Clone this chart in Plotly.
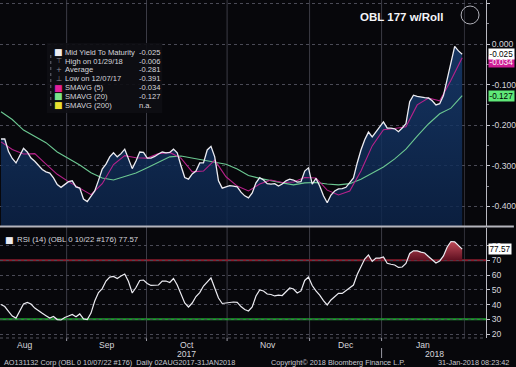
import plotly.graph_objects as go

# ---------------- data ----------------
# trading-day index 0..123  (02AUG2017 .. 31JAN2018, visible part)
mid_yield = [
    -0.234, -0.234, -0.265, -0.282, -0.293, -0.275, -0.257, -0.266, -0.281, -0.289,
    -0.298, -0.309, -0.315, -0.318, -0.330, -0.346, -0.353, -0.345, -0.339, -0.337,
    -0.352, -0.355, -0.382, -0.388, -0.376, -0.362, -0.336, -0.308, -0.296, -0.278,
    -0.268, -0.278, -0.270, -0.259, -0.283, -0.307, -0.288, -0.266, -0.267, -0.281,
    -0.281, -0.277, -0.271, -0.266, -0.268, -0.267, -0.259, -0.268, -0.300, -0.329,
    -0.333, -0.320, -0.313, -0.293, -0.293, -0.261, -0.252, -0.278, -0.337, -0.355,
    -0.352, -0.349, -0.350, -0.352, -0.365, -0.374, -0.379, -0.367, -0.342, -0.329,
    -0.335, -0.344, -0.345, -0.344, -0.350, -0.345, -0.337, -0.333, -0.335, -0.340,
    -0.339, -0.313, -0.305, -0.345, -0.331, -0.350, -0.374, -0.391, -0.372, -0.362,
    -0.357, -0.356, -0.353, -0.342, -0.330, -0.293, -0.261, -0.236, -0.217, -0.229,
    -0.216, -0.206, -0.192, -0.207, -0.207, -0.209, -0.216, -0.207, -0.196, -0.142,
    -0.126, -0.129, -0.131, -0.132, -0.133, -0.140, -0.150, -0.147, -0.127, -0.089,
    -0.049, -0.006, -0.017, -0.025,
]

# moving averages read every third trading day
sma_days = list(range(0, 124, 3))
smavg_5 = [
    -0.241, -0.260, -0.271, -0.270, -0.296, -0.321, -0.339, -0.355, -0.371, -0.344,
    -0.297, -0.275, -0.280, -0.281, -0.270, -0.267, -0.281, -0.315, -0.313, -0.286,
    -0.327, -0.350, -0.362, -0.345, -0.335, -0.341, -0.340, -0.329, -0.330, -0.360,
    -0.372, -0.362, -0.313, -0.251, -0.211, -0.208, -0.204, -0.150, -0.133, -0.140,
    -0.089, -0.034,
]
smavg_20 = [
    -0.167, -0.186, -0.212, -0.227, -0.243, -0.266, -0.282, -0.298, -0.317, -0.330,
    -0.335, -0.326, -0.318, -0.305, -0.292, -0.278, -0.276, -0.281, -0.286, -0.291,
    -0.296, -0.308, -0.324, -0.331, -0.337, -0.342, -0.347, -0.342, -0.341, -0.345,
    -0.347, -0.344, -0.333, -0.318, -0.303, -0.283, -0.259, -0.227, -0.197, -0.172,
    -0.158, -0.127,
]

rsi_14 = [
    40.0, 38.6, 35.3, 32.2, 30.8, 35.3, 40.3, 41.4, 40.3, 37.6,
    35.6, 34.0, 32.4, 30.8, 31.9, 29.8, 29.5, 31.2, 32.2, 33.2,
    31.7, 33.6, 30.2, 29.8, 34.2, 42.4, 48.1, 50.8, 55.9, 58.6,
    59.0, 57.6, 59.3, 60.7, 55.6, 47.8, 51.5, 56.3, 56.6, 54.2,
    52.9, 53.2, 53.2, 55.9, 55.9, 54.9, 57.6, 53.2, 47.1, 41.0,
    38.3, 41.0, 45.4, 48.1, 52.5, 55.3, 58.0, 51.2, 44.4, 40.7,
    41.0, 41.7, 41.7, 41.4, 38.6, 36.6, 35.6, 38.3, 45.8, 49.8,
    49.2, 47.1, 46.8, 45.8, 46.4, 46.1, 48.8, 51.2, 50.5, 47.8,
    49.2, 56.3, 58.6, 52.9, 49.2, 46.4, 42.7, 39.7, 43.1, 45.2,
    47.6, 47.5, 49.5, 51.5, 53.2, 60.3, 65.4, 70.8, 73.6, 69.2,
    71.5, 71.5, 72.2, 67.9, 67.3, 66.8, 65.1, 65.4, 67.9, 74.6,
    76.4, 76.3, 75.5, 74.9, 72.5, 70.2, 68.1, 69.5, 72.9, 79.0,
    82.7, 82.5, 80.3, 77.57,
]

month_labels = ["Aug", "Sep", "Oct", "Nov", "Dec", "Jan"]
year_labels = ["2017", "2018"]
main_ticks = [0.1, 0.0, -0.1, -0.2, -0.3, -0.4]
rsi_ticks = [20, 30, 40, 50, 60, 70, 80]
rsi_over, rsi_under = 70, 30

legend_rows = [
    ("Mid Yield To Maturity", "-0.025"),
    ("High on 01/29/18", "-0.006"),
    ("Average", "-0.281"),
    ("Low on 12/07/17", "-0.391"),
    ("SMAVG (5)", "-0.034"),
    ("SMAVG (20)", "-0.127"),
    ("SMAVG (200)", "n.a."),
]

# ---------------- layout constants ----------------
W, H = 516, 367
ML, MR, MT, MB = 0, 28, 0, 29
PW, PH = W - ML - MR, H - MT - MB
X_RANGE = [-0.27, 129.35]
Y_RANGE = [-0.4483, 0.1084]
R_RANGE = [17.29, 91.86]
MONTH_EDGES = [-4.5, 17.5, 38.8, 60.3, 82.3, 101.5, 123.6]

BG = "#07070b"
FONT = "Liberation Sans, Arial, sans-serif"
TXT = "#d6d6dc"
WHITE = "#ececf2"
MAGENTA = "#b8228c"
GREEN = "#6cc892"


def px_x(p):
    return (p - ML) / PW


def px_y(p):
    return (H - MB - p) / PH


days = list(range(len(mid_yield)))
n = len(days)

fig = go.Figure()

# main panel: filled area under the yield line
fig.add_trace(go.Scatter(x=days, y=[Y_RANGE[0]] * n, mode="lines", line=dict(width=0),
                         hoverinfo="skip", showlegend=False, yaxis="y"))
fig.add_trace(go.Scatter(x=days, y=mid_yield, mode="lines", line=dict(width=0),
                         fill="tonexty",
                         fillgradient=dict(type="vertical",
                                           colorscale=[[0, "rgba(12,36,74,0.82)"],
                                                       [1, "rgba(24,62,116,0.82)"]]),
                         hoverinfo="skip", showlegend=False, yaxis="y"))
fig.add_trace(go.Scatter(x=sma_days, y=smavg_20, mode="lines",
                         line=dict(color=GREEN, width=1.1), showlegend=False, yaxis="y"))
fig.add_trace(go.Scatter(x=sma_days, y=smavg_5, mode="lines",
                         line=dict(color=MAGENTA, width=1.1), showlegend=False, yaxis="y"))
fig.add_trace(go.Scatter(x=days, y=mid_yield, mode="lines",
                         line=dict(color=WHITE, width=1.3), showlegend=False, yaxis="y"))

# RSI panel
fig.add_trace(go.Scatter(x=days, y=[rsi_over] * n, mode="lines", line=dict(width=0),
                         hoverinfo="skip", showlegend=False, yaxis="y2"))
fig.add_trace(go.Scatter(x=days, y=[max(v, rsi_over) for v in rsi_14], mode="lines",
                         line=dict(width=0), fill="tonexty",
                         fillgradient=dict(type="vertical",
                                           colorscale=[[0, "#5e1020"], [1, "#c04a58"]]),
                         hoverinfo="skip", showlegend=False, yaxis="y2"))
fig.add_trace(go.Scatter(x=days, y=rsi_14, mode="lines",
                         line=dict(color=WHITE, width=1.2), showlegend=False, yaxis="y2"))

shapes = []
# month separators across both panels
for e in MONTH_EDGES[1:-1]:
    shapes.append(dict(type="line", xref="x", yref="paper", x0=e, x1=e, y0=0, y1=1,
                       line=dict(color="#3c3c46", width=1), layer="between"))
    shapes.append(dict(type="line", xref="x", yref="paper", x0=e, x1=e,
                       y0=0, y1=px_y(341), line=dict(color="#9a9aa4", width=1)))
shapes.append(dict(type="line", xref="x", yref="paper", x0=MONTH_EDGES[-1], x1=MONTH_EDGES[-1],
                   y0=0, y1=1, line=dict(color="#30303a", width=1), layer="between"))
# year separator below axis
shapes.append(dict(type="line", xref="x", yref="paper", x0=MONTH_EDGES[5], x1=MONTH_EDGES[5],
                   y0=px_y(348), y1=px_y(358), line=dict(color="#9a9aa4", width=1)))
# RSI 70/30 lines
shapes.append(dict(type="line", xref="paper", yref="y2", x0=0, x1=1, y0=rsi_over, y1=rsi_over,
                   line=dict(color="#8e1c2e", width=2), layer="between"))
shapes.append(dict(type="line", xref="paper", yref="y2", x0=0, x1=1, y0=rsi_under, y1=rsi_under,
                   line=dict(color="#1f9c30", width=2), layer="between"))
# panel separator
shapes.append(dict(type="line", xref="paper", yref="paper", x0=0, x1=W / PW,
                   y0=px_y(226.5), y1=px_y(226.5), line=dict(color="#b4b4bc", width=2)))
# bottom axis dotted line
shapes.append(dict(type="line", xref="paper", yref="paper", x0=0, x1=1,
                   y0=0, y1=0, line=dict(color="#55555f", width=1, dash="dot")))
# circle top right
shapes.append(dict(type="circle", xref="paper", yref="paper",
                   x0=px_x(463), x1=px_x(481), y0=px_y(24), y1=px_y(6),
                   line=dict(color="#b0b0b8", width=1)))
# legend box
shapes.append(dict(type="rect", xref="paper", yref="paper",
                   x0=px_x(47), x1=px_x(163), y0=px_y(113), y1=px_y(43),
                   fillcolor="rgba(14,14,20,0.92)", line=dict(width=0)))
shapes.append(dict(type="line", xref="paper", yref="paper",
                   x0=px_x(51), x1=px_x(51), y0=px_y(106), y1=px_y(52),
                   line=dict(color="#6a6a74", width=1, dash="dot")))

annotations = []
# title
annotations.append(dict(text="<b>OBL 177 w/Roll</b>", xref="paper", yref="paper",
                        x=px_x(403.5), y=px_y(17), xanchor="center", yanchor="middle",
                        showarrow=False,
                        font=dict(family=FONT, size=11.5, color="#f4f4f8")))
# legend rows
row_y = [52, 61, 70, 79, 87.5, 96, 105]
icons = [("■", WHITE), ("⊤", "#8a8a94"), ("+", "#8a8a94"), ("⊥", "#8a8a94"),
         ("■", "#e0209a"), ("■", "#7be58c"), ("■", "#e8e030")]
for (lab, val), yy, (ic, icc) in zip(legend_rows, row_y, icons):
    annotations.append(dict(text=ic, xref="paper", yref="paper", x=px_x(59), y=px_y(yy),
                            xanchor="center", yanchor="middle", showarrow=False,
                            font=dict(family="DejaVu Sans", size=9 if ic == "■" else 7, color=icc)))
    annotations.append(dict(text=lab, xref="paper", yref="paper", x=px_x(63.5), y=px_y(yy),
                            xanchor="left", yanchor="middle", showarrow=False,
                            font=dict(family=FONT, size=7.6, color=TXT)))
    annotations.append(dict(text=val, xref="paper", yref="paper", x=px_x(137.5), y=px_y(yy),
                            xanchor="left", yanchor="middle", showarrow=False,
                            font=dict(family=FONT, size=7.6, color=TXT)))
# RSI legend
annotations.append(dict(text="■", xref="paper", yref="paper", x=px_x(10), y=px_y(239.5),
                        xanchor="center", yanchor="middle", showarrow=False,
                        font=dict(family="DejaVu Sans", size=9, color=WHITE)))
annotations.append(dict(text="RSI (14) (OBL 0 10/22 #176) 77.57", xref="paper", yref="paper",
                        x=px_x(15), y=px_y(239.5), xanchor="left", yanchor="middle",
                        showarrow=False, font=dict(family=FONT, size=7.8, color=TXT)))
# month labels
for i, lab in enumerate(month_labels):
    mid = (MONTH_EDGES[i] + MONTH_EDGES[i + 1]) / 2
    annotations.append(dict(text=lab, xref="x", yref="paper", x=mid, y=px_y(344.5),
                            xanchor="center", yanchor="middle", showarrow=False,
                            font=dict(family=FONT, size=8.6, color=TXT)))
for i, lab in zip([2, 5], year_labels):
    mid = (MONTH_EDGES[i] + MONTH_EDGES[i + 1]) / 2
    if i == 5:
        mid += 3
    annotations.append(dict(text=lab, xref="x", yref="paper", x=mid, y=px_y(353.5),
                            xanchor="center", yanchor="middle", showarrow=False,
                            font=dict(family=FONT, size=8.6, color=TXT)))
# footer
foot_font = dict(family=FONT, size=7.3, color="#c8c8d0")
annotations.append(dict(text="AO131132 Corp (OBL 0 10/07/22 #176)&nbsp; Daily 02AUG2017-31JAN2018",
                        xref="paper", yref="paper", x=px_x(2), y=px_y(362), xanchor="left",
                        yanchor="middle", showarrow=False, font=foot_font))
annotations.append(dict(text="Copyright© 2018 Bloomberg Finance L.P.",
                        xref="paper", yref="paper", x=px_x(270), y=px_y(362), xanchor="left",
                        yanchor="middle", showarrow=False, font=foot_font))
annotations.append(dict(text="31-Jan-2018 08:23:42",
                        xref="paper", yref="paper", x=px_x(513), y=px_y(362), xanchor="right",
                        yanchor="middle", showarrow=False, font=foot_font))
# value tags on the right axis
tags = [("y", smavg_5[-1], "#d01e96", "#ffffff", 4),
        ("y", mid_yield[-1], "#ffffff", "#000000", 0),
        ("y", smavg_20[-1], "#5fe878", "#000000", 0),
        ("y2", rsi_14[-1], "#ffffff", "#000000", 0)]
for yref, val, bg, fg, shift in tags:
    txt = f"{val:.2f}" if yref == "y2" else f"{val:.3f}"
    annotations.append(dict(text=txt, xref="paper", yref=yref, x=1, y=val, xanchor="left",
                            yanchor="middle", xshift=2, yshift=-shift, showarrow=False,
                            bgcolor=bg, borderpad=0.5,
                            font=dict(family=FONT, size=8.2, color=fg)))

axis_font = dict(family=FONT, size=8.6, color=TXT)
fig.update_layout(
    width=W, height=H,
    margin=dict(l=ML, r=MR, t=MT, b=MB),
    paper_bgcolor=BG, plot_bgcolor=BG,
    showlegend=False,
    xaxis=dict(domain=[0, 1], range=X_RANGE, anchor="y2", showgrid=False, zeroline=False,
               showticklabels=False, ticks="", showline=False),
    yaxis=dict(domain=[px_y(226), 1], range=Y_RANGE, side="right", anchor="x",
               tickvals=main_ticks, ticktext=[f"{v:.3f}" for v in main_ticks],
               ticks="outside", ticklen=3, tickcolor="#c8c8d0", tickfont=axis_font,
               minor=dict(tick0=0, dtick=0.05, ticks="outside", ticklen=2, tickcolor="#8a8a94",
                          showgrid=False),
               showline=True, linecolor="#b8b8c0", linewidth=1,
               showgrid=True, gridcolor="#4a4a56", griddash="dot", gridwidth=1, zeroline=False),
    yaxis2=dict(domain=[0, px_y(228)], range=R_RANGE, side="right", anchor="x",
                tickvals=rsi_ticks, ticks="outside", ticklen=3, tickcolor="#c8c8d0",
                tickfont=axis_font, showline=True, linecolor="#b8b8c0", linewidth=1,
                showgrid=True, gridcolor="#4a4a56", griddash="dot", gridwidth=1, zeroline=False),
    shapes=shapes,
    annotations=annotations,
)

fig.write_html("out.html", config={"displayModeBar": False},
               post_script="document.body.style.margin='0px';document.body.style.overflow='hidden';")
